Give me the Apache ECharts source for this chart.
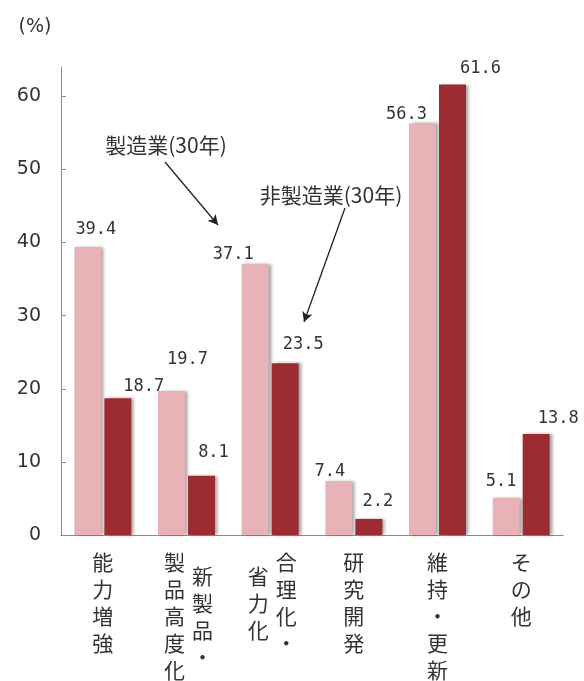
<!DOCTYPE html>
<html>
<head>
<meta charset="utf-8">
<script src="https://cdn.jsdelivr.net/npm/echarts@6/dist/echarts.min.js"></script>
<style>
html,body{margin:0;padding:0;background:#fff;}
#chart{width:584px;height:681px;}
</style>
</head>
<body>
<div id="chart"></div>
<script>
// ---- data ----
const categories = ['能力増強', '新製品・製品高度化', '合理化・省力化', '研究開発', '維持・更新', 'その他'];
const labelColumns = [['能力増強'], ['製品高度化', '新製品・'], ['省力化', '合理化・'], ['研究開発'], ['維持・更新'], ['その他']];
const seriesNames = ['製造業(30年)', '非製造業(30年)'];
const manufacturing = [39.4, 19.7, 37.1, 7.4, 56.3, 5.1];
const nonManufacturing = [18.7, 8.1, 23.5, 2.2, 61.6, 13.8];
const yTicks = [0, 10, 20, 30, 40, 50, 60];
const yUnit = '(%)';

// ---- label placement (styles, not data) ----
const mfgLabelOffsets = [[8, -8], [16, -22], [-22, 0], [-9, 0], [-16, 0], [-5, -7]];
const nonLabelOffsets = [[26, -3], [12, -14], [18, -10], [9, -8], [28, -7], [22, -7]];

const chart = echarts.init(document.getElementById('chart'));

const CJK = '"Noto Sans CJK JP", "Noto Sans CJK SC", sans-serif';
const PITCH = 27;

function colText(str, style, other) {
  const chars = Array.from(str);
  let s = '';
  if (other && Array.from(other).length > chars.length) {
    const n = Array.from(other).length - chars.length;
    s += '{sp' + n + '| }\n';
  }
  return s + '{' + style + '|' + chars.join('\n') + '}';
}

const baseRich = { fontSize: 21, lineHeight: PITCH, fontFamily: CJK, color: '#333' };
const rich = {
  c: Object.assign({}, baseRich),
  l: Object.assign({}, baseRich, { padding: [0, 24, 0, 0] }),
  r: Object.assign({}, baseRich, { padding: [0, 0, 0, 32] }),
  sp1: { fontSize: 2, lineHeight: PITCH / 2, height: PITCH / 2 },
  sp2: { fontSize: 2, lineHeight: PITCH, height: PITCH }
};

function makeData(values, offsets) {
  return values.map((v, i) => ({
    value: v,
    label: { offset: offsets[i] }
  }));
}

const valueLabel = {
  show: true,
  position: 'top',
  distance: 0,
  fontFamily: '"DejaVu Sans Mono", monospace',
  fontSize: 17,
  lineHeight: 18,
  color: '#333'
};

const option = {
  animation: false,
  backgroundColor: '#fff',
  grid: { left: 61, right: 21, top: 67, bottom: 146, containLabel: false },
  xAxis: [
    {
      type: 'category',
      position: 'bottom',
      data: categories,
      axisLine: { show: true, lineStyle: { color: '#8a8a8a', width: 1 } },
      axisTick: { show: false },
      axisLabel: {
        interval: 0,
        margin: 14,
        formatter: function (v, i) {
          const cols = labelColumns[i];
          if (cols.length === 1) return colText(cols[0], 'c');
          return colText(cols[0], 'l', cols[1]);
        },
        rich: rich
      }
    },
    {
      type: 'category',
      position: 'bottom',
      data: categories,
      axisLine: { show: false },
      axisTick: { show: false },
      splitLine: { show: false },
      axisLabel: {
        interval: 0,
        margin: 14,
        formatter: function (v, i) {
          const cols = labelColumns[i];
          if (cols.length < 2) return '';
          return colText(cols[1], 'r', cols[0]);
        },
        rich: rich
      }
    }
  ],
  yAxis: {
    type: 'value',
    min: 0,
    max: 64,
    interval: 10,
    name: yUnit,
    nameLocation: 'end',
    nameGap: 30,
    nameTextStyle: {
      fontFamily: '"DejaVu Sans", sans-serif',
      fontSize: 19,
      color: '#333',
      align: 'center',
      padding: [0, 52, 0, 0]
    },
    axisLine: { show: true, lineStyle: { color: '#8a8a8a', width: 1 } },
    axisTick: { show: true, inside: true, length: 5, lineStyle: { color: '#8a8a8a' }, customValues: yTicks },
    splitLine: { show: false },
    axisLabel: {
      margin: 20,
      fontFamily: '"DejaVu Sans", sans-serif',
      fontSize: 19,
      color: '#333',
      customValues: yTicks,
      formatter: function (v) { return yTicks.indexOf(v) >= 0 ? String(v) : ''; }
    }
  },
  series: [
    {
      name: seriesNames[0],
      type: 'bar',
      xAxisIndex: 0,
      barWidth: 27,
      barGap: '11%',
      data: makeData(manufacturing, mfgLabelOffsets),
      itemStyle: {
        color: '#e7b3b6',
        shadowColor: 'rgba(0,0,0,0.35)',
        shadowBlur: 3,
        shadowOffsetX: 3,
        shadowOffsetY: 0
      },
      label: valueLabel,
      markLine: {
        silent: true,
        symbol: ['none', 'arrow'],
        symbolSize: [8, 10],
        label: { show: false },
        lineStyle: { color: '#222', width: 1.3, type: 'solid' },
        data: [
          [{ x: 165, y: 162 }, { x: 218, y: 225 }],
          [{ x: 345, y: 208 }, { x: 304, y: 322 }]
        ]
      }
    },
    {
      name: seriesNames[1],
      type: 'bar',
      xAxisIndex: 0,
      barWidth: 27,
      barGap: '11%',
      data: makeData(nonManufacturing, nonLabelOffsets),
      itemStyle: {
        color: '#9c2b32',
        shadowColor: 'rgba(0,0,0,0.35)',
        shadowBlur: 3,
        shadowOffsetX: 3,
        shadowOffsetY: 0
      },
      label: valueLabel
    }
  ],
  graphic: [
    {
      type: 'text',
      x: 166, y: 145,
      style: {
        text: seriesNames[0],
        font: '21px ' + CJK,
        fill: '#333',
        align: 'center',
        verticalAlign: 'middle'
      }
    },
    {
      type: 'text',
      x: 331, y: 195,
      style: {
        text: seriesNames[1],
        font: '21px ' + CJK,
        fill: '#333',
        align: 'center',
        verticalAlign: 'middle'
      }
    }
  ]
};

chart.setOption(option);
</script>
</body>
</html>
